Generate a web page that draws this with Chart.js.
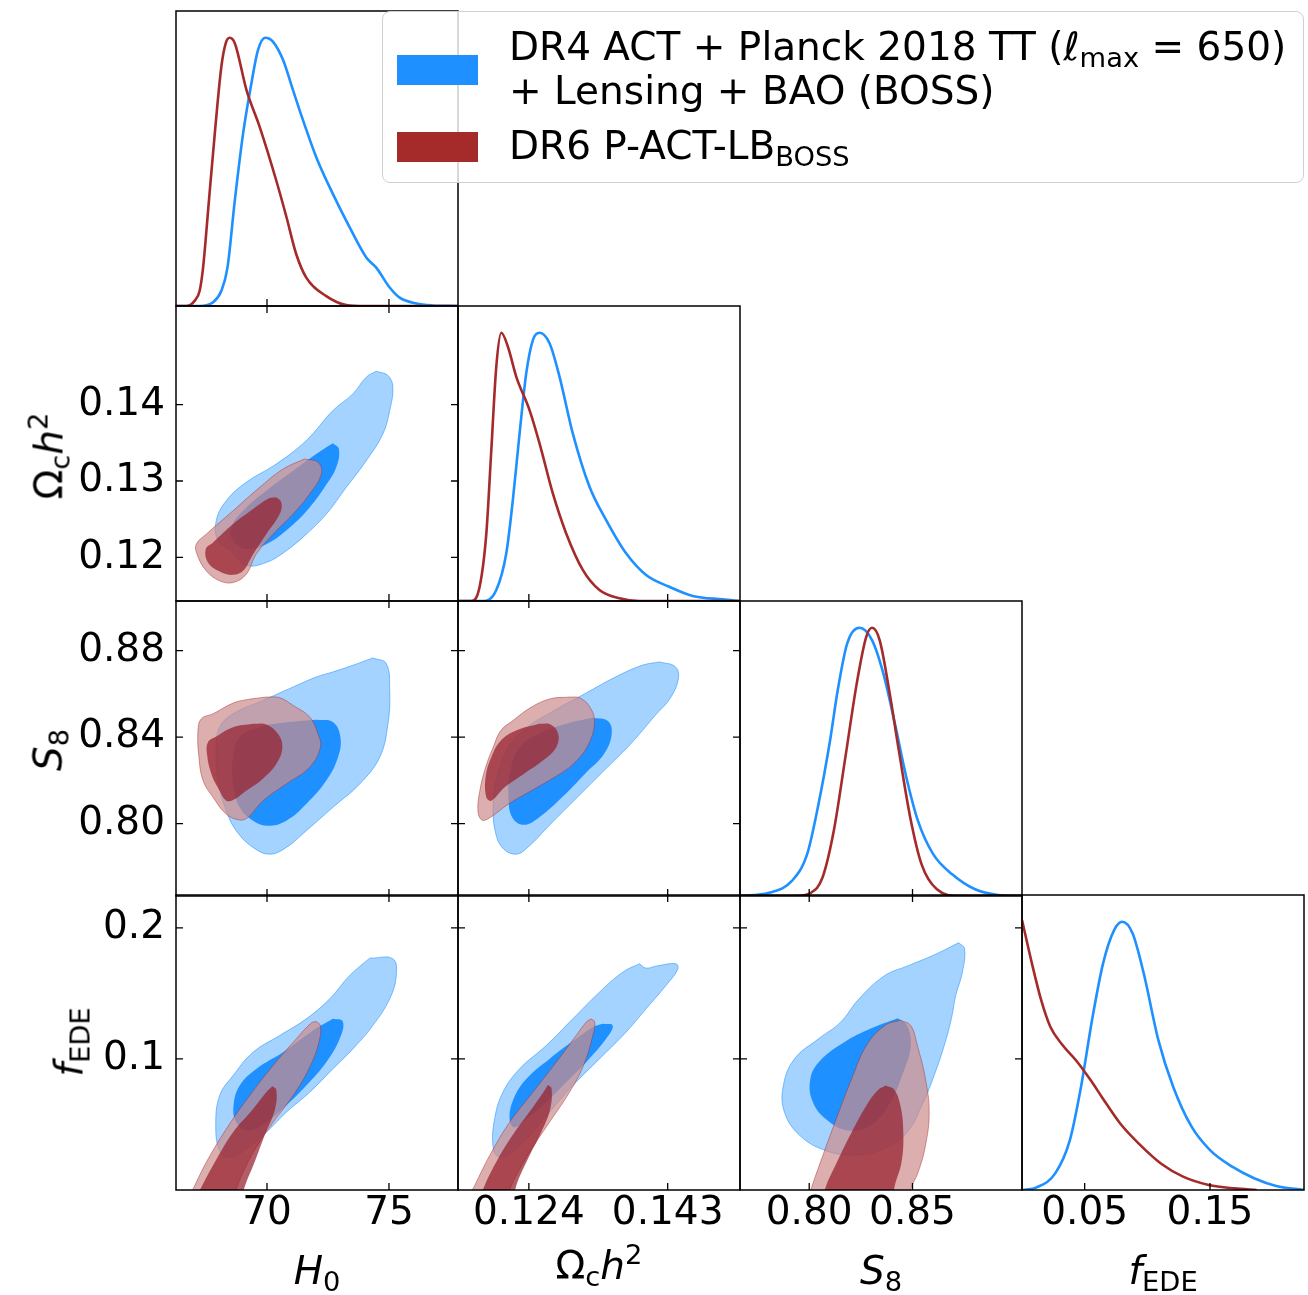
<!DOCTYPE html>
<html lang="en">
<head>
  <meta charset="UTF-8" />
  <title>EDE triangle plot</title>
  <script src="https://cdn.jsdelivr.net/npm/chart.js"></script>
  <style>
    body { margin: 0; background: #fff; font-family: 'DejaVu Sans', sans-serif; }
    #fig { position: relative; width: 1308px; height: 1295px; overflow: hidden; }
    #fig canvas { position: absolute; }
    .lbl { position: absolute; font-size: 39px; line-height: 39px; white-space: nowrap; color: #000; z-index: 4; }
    .lbl sub { font-size: 0.7em; vertical-align: -0.25em; line-height: 0; }
    .lbl sup { font-size: 0.7em; vertical-align: 0.55em; line-height: 0; }
    .ylbl { transform: translate(-50%, -50%) rotate(-90deg); }
    .xlbl { transform: translateX(-50%); }
    #legend {
      position: absolute; left: 382px; top: 11px; width: 920px; height: 170px;
      border: 1.5px solid #cfcfcf; border-radius: 8px; background: rgba(255,255,255,0.8); z-index: 5;
    }
    .patch { position: absolute; left: 14px; width: 81px; height: 30px; }
    .legtxt { position: absolute; left: 126px; font-size: 39px; line-height: 39px; white-space: nowrap; }
    .legtxt sub { font-size: 0.7em; vertical-align: -0.25em; line-height: 0; }
  </style>
</head>
<body>
<div id="fig">
  <!-- axis titles -->
  <div class="lbl xlbl" style="left:317px; top:1251px"><i>H</i><sub>0</sub></div>
  <div class="lbl xlbl" style="left:599px; top:1246px">Ω<sub>c</sub><i>h</i><sup>2</sup></div>
  <div class="lbl xlbl" style="left:881px; top:1251px"><i>S</i><sub>8</sub></div>
  <div class="lbl xlbl" style="left:1163px; top:1251px"><i>f</i><sub>EDE</sub></div>
  <div class="lbl ylbl" style="left:49px; top:456px">Ω<sub>c</sub><i>h</i><sup>2</sup></div>
  <div class="lbl ylbl" style="left:48px; top:750px"><i>S</i><sub>8</sub></div>
  <div class="lbl ylbl" style="left:69px; top:1042px"><i>f</i><sub>EDE</sub></div>

  <div id="legend">
    <div class="patch" style="top:43px; background:#1e90ff"></div>
    <div class="patch" style="top:120px; background:#a52a2a"></div>
    <div class="legtxt" style="top:15px">DR4 ACT + Planck 2018 TT (<i>ℓ</i><sub>max</sub> = 650)</div>
    <div class="legtxt" style="top:59px">+ Lensing + BAO (BOSS)</div>
    <div class="legtxt" style="top:114px">DR6 P-ACT-LB<sub>BOSS</sub></div>
  </div>
</div>

<script>
  // axis ranges
  const h0Range = [66.27, 77.83];
  const omRange = [0.1143, 0.1529];
  const s8Range = [0.7665, 0.903];
  const fRange = [0, 0.225];

  // ticks and tick labels
  const h0Ticks = [70, 75];
  const h0Labels = ['70', '75'];
  const omXTicks = [0.124, 0.143];
  const omXLabels = ['0.124', '0.143'];
  const omYTicks = [0.12, 0.13, 0.14];
  const omYLabels = ['0.12', '0.13', '0.14'];
  const s8XTicks = [0.80, 0.85];
  const s8XLabels = ['0.80', '0.85'];
  const s8YTicks = [0.80, 0.84, 0.88];
  const s8YLabels = ['0.80', '0.84', '0.88'];
  const fXTicks = [0.05, 0.15];
  const fXLabels = ['0.05', '0.15'];
  const fYTicks = [0.1, 0.2];
  const fYLabels = ['0.1', '0.2'];

  // 1D marginals (value, normalised density)
  const h0Blue = [[66.27,0],[67.24,0],[67.79,0.014],[68.13,0.057],[68.38,0.143],[68.68,0.393],[69.02,0.643],[69.36,0.83],[69.63,0.954],[69.93,1.0],[70.25,0.985],[70.66,0.917],[71.07,0.804],[71.48,0.692],[72.02,0.555],[72.7,0.418],[73.39,0.293],[74.07,0.181],[74.48,0.143],[75.03,0.069],[75.44,0.031],[76.12,0.009],[76.8,0.002],[77.83,0]];
  const h0Red = [[66.27,0],[66.71,0],[67.04,0.02],[67.24,0.057],[67.38,0.143],[67.62,0.393],[67.86,0.643],[68.13,0.893],[68.31,0.98],[68.47,1.0],[68.68,0.98],[69.16,0.805],[69.7,0.668],[70.38,0.468],[70.8,0.331],[71.2,0.193],[71.61,0.106],[72.43,0.037],[73.25,0.004],[74.07,0],[77.83,0]];
  const omBlue = [[0.1143,0],[0.1177,0],[0.11954,0.041],[0.12091,0.178],[0.12181,0.377],[0.12273,0.625],[0.12364,0.849],[0.12455,0.973],[0.12546,1.0],[0.12683,0.961],[0.1282,0.836],[0.13001,0.625],[0.1323,0.426],[0.13458,0.302],[0.13731,0.178],[0.14005,0.097],[0.14323,0.053],[0.14642,0.019],[0.15052,0.006],[0.1529,0]];
  const omRed = [[0.1143,0],[0.11613,0],[0.11726,0.053],[0.11818,0.252],[0.11886,0.563],[0.11954,0.874],[0.12023,1.0],[0.12113,0.948],[0.12228,0.836],[0.12409,0.712],[0.12546,0.588],[0.12728,0.401],[0.12911,0.252],[0.13138,0.116],[0.13366,0.041],[0.1364,0.01],[0.13913,0],[0.1529,0]];
  const s8Blue = [[0.7665,0],[0.7805,0.012],[0.7916,0.056],[0.799,0.156],[0.8045,0.343],[0.8101,0.58],[0.8138,0.767],[0.8184,0.942],[0.8243,1.0],[0.8304,0.954],[0.8359,0.829],[0.8415,0.642],[0.847,0.443],[0.8526,0.281],[0.86,0.156],[0.8692,0.081],[0.8803,0.025],[0.8914,0.004],[0.903,0]];
  const s8Red = [[0.7665,0],[0.7934,0],[0.8008,0.012],[0.8064,0.068],[0.8119,0.243],[0.8175,0.517],[0.823,0.792],[0.8276,0.966],[0.8304,1.0],[0.8341,0.954],[0.8387,0.767],[0.8434,0.542],[0.8489,0.293],[0.8544,0.118],[0.8618,0.025],[0.8729,0],[0.903,0]];
  const fBlue = [[0,0],[0.0118,0.01],[0.0265,0.062],[0.0382,0.186],[0.0471,0.385],[0.0559,0.634],[0.0647,0.845],[0.0735,0.969],[0.08,1.0],[0.0882,0.957],[0.0971,0.808],[0.1088,0.559],[0.1206,0.385],[0.1353,0.236],[0.15,0.149],[0.1677,0.087],[0.1852,0.044],[0.2029,0.015],[0.225,0]];
  const fRed = [[0,1.007],[0.0079,0.845],[0.0153,0.708],[0.0226,0.609],[0.0315,0.545],[0.0432,0.483],[0.055,0.408],[0.0638,0.346],[0.0785,0.247],[0.0932,0.173],[0.1108,0.099],[0.1285,0.05],[0.149,0.019],[0.1696,0.006],[0.1872,0]];

  // 2D contours: H0 vs Omega_c h^2
  const h0OmBlueOuter = [[74.48,0.14437],[74.96,0.1438],[75.16,0.14228],[75.03,0.13922],[74.75,0.13616],[74.07,0.13266],[73.25,0.12917],[72.43,0.12567],[71.61,0.12305],[70.79,0.12087],[69.97,0.11934],[69.15,0.11899],[68.47,0.121],[67.99,0.12218],[67.92,0.1248],[68.33,0.12742],[69.15,0.12983],[70.38,0.13223],[71.61,0.13529],[72.7,0.13922],[73.52,0.1414],[74.07,0.14359]];
  const h0OmBlueInner = [[72.7,0.13494],[72.95,0.13419],[72.84,0.13179],[72.36,0.12917],[71.75,0.12655],[70.93,0.12393],[69.97,0.12174],[69.15,0.12109],[68.61,0.12218],[68.54,0.12393],[69.02,0.12611],[69.97,0.12873],[71.07,0.13135],[72.02,0.13354]];
  const h0OmRedOuter = [[71.54,0.13288],[72.09,0.13245],[72.23,0.13092],[71.75,0.1283],[71.07,0.12568],[70.25,0.12305],[69.56,0.12043],[69.15,0.11781],[68.61,0.11672],[68.06,0.11694],[67.51,0.11825],[67.13,0.12043],[67.1,0.12174],[67.51,0.12305],[68.61,0.12611],[69.7,0.12917],[70.66,0.13157]];
  const h0OmRedInner = [[70.38,0.12786],[70.59,0.1272],[70.52,0.12567],[69.97,0.12305],[69.43,0.12043],[69.02,0.11825],[68.61,0.11772],[68.06,0.11816],[67.58,0.11934],[67.49,0.12109],[67.79,0.12196],[68.61,0.12436],[69.43,0.12633],[70.11,0.12777]];

  // H0 vs S8
  const h0S8BlueOuter = [[74.34,0.87666],[74.89,0.87403],[75.03,0.86165],[74.96,0.84619],[74.62,0.83072],[73.8,0.81835],[72.7,0.80752],[71.61,0.79669],[70.79,0.78896],[70.11,0.78586],[69.43,0.78896],[68.74,0.79669],[68.33,0.80597],[67.99,0.81989],[67.92,0.83536],[68.06,0.84464],[68.61,0.85083],[69.84,0.85701],[71.07,0.8632],[72.02,0.86784],[72.7,0.87016],[73.52,0.87326]];
  const h0S8BlueInner = [[72.02,0.84804],[72.7,0.84696],[73.01,0.84],[72.91,0.83072],[72.43,0.81989],[71.61,0.80906],[70.79,0.80133],[70.04,0.79901],[69.43,0.80133],[68.88,0.80752],[68.61,0.81835],[68.61,0.83072],[68.88,0.84],[69.7,0.84464],[70.93,0.84696]];
  const h0S8RedOuter = [[69.97,0.85856],[69.15,0.85732],[68.61,0.85578],[67.79,0.85083],[67.31,0.84851],[67.17,0.84309],[67.21,0.83072],[67.38,0.81989],[67.79,0.81216],[68.33,0.80442],[68.88,0.80164],[69.22,0.80288],[69.84,0.81061],[70.79,0.81835],[71.75,0.82608],[72.19,0.83536],[72.09,0.84155],[71.75,0.84928],[71.07,0.8547],[70.52,0.85825]];
  const h0S8RedInner = [[69.43,0.84619],[69.97,0.84588],[70.45,0.84155],[70.63,0.83536],[70.38,0.82763],[69.77,0.8202],[69.15,0.81525],[68.61,0.81092],[68.33,0.81061],[68.06,0.81525],[67.72,0.82299],[67.54,0.83227],[67.58,0.83768],[67.92,0.84031],[68.61,0.84464]];

  // Omega_c h^2 vs S8
  const omS8BlueOuter = [[0.14187,0.8748],[0.14397,0.87279],[0.14449,0.86784],[0.14345,0.85856],[0.14109,0.84928],[0.13795,0.83691],[0.13429,0.82453],[0.13063,0.81216],[0.12697,0.79978],[0.12383,0.78896],[0.12226,0.78586],[0.12043,0.78865],[0.11938,0.79669],[0.11912,0.80906],[0.11964,0.82144],[0.12121,0.83536],[0.12383,0.84464],[0.12749,0.85237],[0.13167,0.86011],[0.13586,0.86784],[0.13952,0.87326]];
  const omS8BlueInner = [[0.13272,0.84897],[0.13482,0.84742],[0.13534,0.84155],[0.1343,0.83227],[0.13167,0.82299],[0.12854,0.81216],[0.1254,0.80288],[0.1233,0.79947],[0.12173,0.80288],[0.12121,0.81216],[0.12147,0.82453],[0.12278,0.83536],[0.1254,0.84155],[0.12906,0.84619]];
  const omS8RedOuter = [[0.12958,0.85856],[0.12697,0.85779],[0.12435,0.85392],[0.12173,0.84742],[0.12017,0.84309],[0.11912,0.83536],[0.11808,0.82608],[0.11729,0.81525],[0.11703,0.80597],[0.11755,0.80164],[0.1186,0.80257],[0.12121,0.80906],[0.12435,0.81525],[0.12749,0.82144],[0.1301,0.82763],[0.1322,0.83691],[0.13298,0.84773],[0.1322,0.85469],[0.13089,0.85825]];
  const omS8RedInner = [[0.1254,0.84619],[0.12697,0.84588],[0.12801,0.84155],[0.12775,0.83536],[0.12592,0.82917],[0.1233,0.82299],[0.12069,0.8168],[0.11886,0.81061],[0.11818,0.81216],[0.11808,0.82144],[0.11886,0.83072],[0.12017,0.83845],[0.12226,0.84309]];

  // H0 vs f_EDE
  const h0FBlueOuter = [[74.21,0.17684],[75.16,0.17634],[75.3,0.16361],[75.03,0.1458],[74.34,0.12545],[73.52,0.10763],[72.7,0.09237],[71.75,0.07455],[70.79,0.05929],[69.97,0.04402],[69.15,0.0313],[68.47,0.02494],[68.06,0.03003],[67.9,0.04911],[68.06,0.07201],[68.61,0.08728],[69.43,0.10509],[70.52,0.11781],[71.61,0.13053],[72.57,0.1458],[73.39,0.16361]];
  const h0FBlueInner = [[72.7,0.13053],[73.11,0.1285],[72.98,0.11527],[72.43,0.09746],[71.61,0.07964],[70.79,0.06438],[69.97,0.05165],[69.22,0.04529],[68.74,0.05165],[68.63,0.06438],[68.88,0.07964],[69.56,0.09237],[70.66,0.10509],[71.89,0.12163]];
  const h0FRedOuter = [[72.02,0.1285],[72.19,0.12545],[72.13,0.11272],[71.75,0.09364],[71.07,0.072],[70.25,0.05165],[69.56,0.03257],[69.02,0.01349],[68.74,0.00076],[68.36,-0.0171],[66.49,-0.0171],[66.97,0.00076],[67.51,0.02112],[68.33,0.04656],[69.29,0.072],[70.25,0.09491],[71.2,0.11527],[71.82,0.12748]];
  const h0FRedInner = [[70.22,0.07913],[70.38,0.07659],[70.33,0.06183],[69.9,0.04148],[69.49,0.02112],[69.08,0.00204],[68.81,-0.0171],[66.83,-0.0171],[67.31,0.00204],[67.86,0.02112],[68.61,0.04402],[69.43,0.06183],[69.97,0.07455]];

  // Omega_c h^2 vs f_EDE
  const omFBlueOuter = [[0.13913,0.17252],[0.14004,0.16921],[0.14141,0.17074],[0.14414,0.17252],[0.14437,0.16819],[0.14277,0.15598],[0.14004,0.13817],[0.1373,0.12036],[0.13366,0.1],[0.13001,0.07964],[0.12682,0.05929],[0.12364,0.03893],[0.12136,0.02748],[0.11976,0.0257],[0.11908,0.03384],[0.11931,0.0542],[0.12045,0.07455],[0.12272,0.09237],[0.12637,0.11018],[0.13001,0.13053],[0.13366,0.15089],[0.13685,0.16616]];
  const omFBlueInner = [[0.13411,0.12672],[0.13548,0.12545],[0.13457,0.11527],[0.13184,0.09746],[0.1291,0.08219],[0.12637,0.06692],[0.12364,0.0542],[0.12204,0.04784],[0.12136,0.0542],[0.1219,0.06947],[0.12364,0.08473],[0.12682,0.1],[0.13047,0.11527],[0.13275,0.12417]];
  const omFRedOuter = [[0.13252,0.13053],[0.13302,0.12799],[0.13275,0.11781],[0.13147,0.09491],[0.12956,0.07455],[0.12682,0.05165],[0.12409,0.02875],[0.12159,0.00331],[0.12022,-0.0171],[0.11475,-0.0171],[0.11657,0.00331],[0.11862,0.0262],[0.12136,0.05165],[0.12455,0.07455],[0.12774,0.09746],[0.13047,0.11781],[0.13184,0.12799]];
  const omFRedInner = [[0.1266,0.08015],[0.1271,0.07761],[0.12692,0.06183],[0.12569,0.04402],[0.12386,0.02366],[0.12227,0.00331],[0.12136,-0.0171],[0.11657,-0.0171],[0.11794,0.00331],[0.11976,0.02366],[0.12204,0.04402],[0.12455,0.0631],[0.12614,0.07583]];

  // S8 vs f_EDE
  const s8FBlueOuter = [[0.87236,0.18855],[0.87522,0.18397],[0.87415,0.16616],[0.87093,0.14835],[0.86879,0.13053],[0.86521,0.10936],[0.85985,0.08473],[0.85449,0.06438],[0.84735,0.04402],[0.83663,0.03181],[0.82233,0.02672],[0.80804,0.03003],[0.79553,0.04148],[0.78803,0.05929],[0.78749,0.07964],[0.79285,0.1],[0.80447,0.11527],[0.81519,0.12799],[0.82412,0.1458],[0.83663,0.16361],[0.84735,0.17074],[0.85985,0.17888]];
  const s8FBlueInner = [[0.84288,0.13104],[0.84735,0.12545],[0.84913,0.11018],[0.84556,0.08982],[0.83841,0.06438],[0.82948,0.04911],[0.81876,0.04529],[0.80893,0.05293],[0.80179,0.06692],[0.80054,0.08473],[0.80536,0.09873],[0.81697,0.11272],[0.82948,0.1229]];
  const s8FRedOuter = [[0.84413,0.12952],[0.84913,0.12545],[0.85235,0.11018],[0.85628,0.08473],[0.85807,0.05929],[0.85628,0.03384],[0.85271,0.01349],[0.84913,0.00076],[0.84645,-0.0171],[0.79732,-0.0171],[0.80089,0.00076],[0.80715,0.02875],[0.81429,0.05929],[0.82055,0.08473],[0.82769,0.11018],[0.83663,0.12545]];
  const s8FRedInner = [[0.83698,0.07964],[0.84109,0.07659],[0.84413,0.06438],[0.84556,0.04402],[0.84467,0.02112],[0.84109,0.00076],[0.8402,-0.0171],[0.80536,-0.0171],[0.80768,0.00076],[0.8134,0.02112],[0.82055,0.04402],[0.82769,0.06438],[0.83305,0.07583]];

  const BLUE = '#1e90ff';
  const RED = '#a52a2a';
  const FONT = { family: 'DejaVu Sans', size: 39 };

  const params = [
    { range: h0Range, xTicks: h0Ticks, xLabels: h0Labels, yTicks: [], yLabels: [] },
    { range: omRange, xTicks: omXTicks, xLabels: omXLabels, yTicks: omYTicks, yLabels: omYLabels },
    { range: s8Range, xTicks: s8XTicks, xLabels: s8XLabels, yTicks: s8YTicks, yLabels: s8YLabels },
    { range: fRange, xTicks: fXTicks, xLabels: fXLabels, yTicks: fYTicks, yLabels: fYLabels }
  ];
  const marginals = [[h0Blue, h0Red], [omBlue, omRed], [s8Blue, s8Red], [fBlue, fRed]];
  const contours = {
    '0-1': [h0OmBlueOuter, h0OmBlueInner, h0OmRedOuter, h0OmRedInner],
    '0-2': [h0S8BlueOuter, h0S8BlueInner, h0S8RedOuter, h0S8RedInner],
    '1-2': [omS8BlueOuter, omS8BlueInner, omS8RedOuter, omS8RedInner],
    '0-3': [h0FBlueOuter, h0FBlueInner, h0FRedOuter, h0FRedInner],
    '1-3': [omFBlueOuter, omFBlueInner, omFRedOuter, omFRedInner],
    '2-3': [s8FBlueOuter, s8FBlueInner, s8FRedOuter, s8FRedInner]
  };

  const colX = [176, 458, 740, 1022];
  const rowY = [11, 306, 601, 895];
  const PW = 282, PH = 295;

  // frame + inward tick marks, like matplotlib direction='in'
  const frameTicks = {
    id: 'frameTicks',
    afterDraw(chart, args, o) {
      const { ctx, chartArea: a } = chart;
      const x = chart.scales.x, y = chart.scales.y;
      const L = 7;
      ctx.save();
      ctx.strokeStyle = '#000';
      ctx.lineWidth = 1.3;
      ctx.beginPath();
      x.ticks.forEach(t => {
        const p = x.getPixelForValue(t.value);
        ctx.moveTo(p, a.bottom); ctx.lineTo(p, a.bottom - L);
        if (o.all) { ctx.moveTo(p, a.top); ctx.lineTo(p, a.top + L); }
      });
      if (o.all) {
        y.ticks.forEach(t => {
          const p = y.getPixelForValue(t.value);
          ctx.moveTo(a.left, p); ctx.lineTo(a.left + L, p);
          ctx.moveTo(a.right, p); ctx.lineTo(a.right - L, p);
        });
      }
      ctx.stroke();
      ctx.lineWidth = 1.5;
      ctx.strokeRect(a.left, a.top, a.right - a.left, a.bottom - a.top);
      ctx.restore();
    }
  };

  const toXY = pts => pts.map(p => ({ x: p[0], y: p[1] }));

  function contour(pts, fill, edge, order) {
    const data = toXY(pts.concat([pts[0]]));
    return {
      data, fill: 'shape', backgroundColor: fill, borderColor: edge || 'rgba(0,0,0,0)',
      borderWidth: edge ? 1 : 0, pointRadius: 0, tension: 0.4, order
    };
  }

  function curve(pts, color, order) {
    return {
      data: toXY(pts), fill: false, borderColor: color, borderWidth: 2.6,
      pointRadius: 0, cubicInterpolationMode: 'monotone', order
    };
  }

  // keep the plot box exactly where it belongs: no label overhang padding
  function noPad(s) {
    s.paddingTop = 0; s.paddingBottom = 0; s.paddingLeft = 0; s.paddingRight = 0;
  }

  function makePanel(col, row) {
    const is1D = col === row;
    const padL = col === 0 ? colX[0] : 6;
    const padB = row === 3 ? 1295 - (rowY[3] + PH) : 6;
    const padT = 6, padR = 6;
    const px = params[col], py = params[row];

    const canvas = document.createElement('canvas');
    const w = PW + padL + padR, h = PH + padT + padB;
    canvas.width = w; canvas.height = h;
    canvas.style.left = (colX[col] - padL) + 'px';
    canvas.style.top = (rowY[row] - padT) + 'px';
    canvas.style.width = w + 'px'; canvas.style.height = h + 'px';
    document.getElementById('fig').appendChild(canvas);

    let datasets;
    if (is1D) {
      const [b, r] = marginals[col];
      datasets = [curve(r, RED, 1), curve(b, BLUE, 2)];
    } else {
      const [bo, bi, ro, ri] = contours[col + '-' + row];
      datasets = [
        contour(ri, 'rgba(150,30,45,0.72)', null, 1),
        contour(ro, 'rgba(205,140,140,0.7)', 'rgba(165,42,42,0.45)', 2),
        contour(bi, BLUE, null, 3),
        contour(bo, 'rgba(30,144,255,0.4)', 'rgba(30,144,255,0.55)', 4)
      ];
    }

    const yTicks = is1D ? [] : py.yTicks;
    const yLabels = is1D ? [] : py.yLabels;

    new Chart(canvas, {
      type: 'line',
      data: { datasets },
      plugins: [frameTicks],
      options: {
        responsive: false,
        animation: false,
        events: [],
        layout: { padding: { top: padT, right: padR, left: 0, bottom: 0 }, autoPadding: false },
        plugins: {
          legend: { display: false },
          tooltip: { enabled: false },
          frameTicks: { all: !is1D }
        },
        scales: {
          x: {
            type: 'linear', position: 'bottom', bounds: 'data',
            min: px.range[0], max: px.range[1],
            grid: { display: false, drawTicks: false },
            border: { display: false },
            ticks: {
              display: row === 3, color: '#000', font: FONT, padding: 0, maxRotation: 0,
              callback: (v, i) => px.xLabels[i]
            },
            afterBuildTicks: s => { s.ticks = px.xTicks.map(v => ({ value: v })); },
            afterFit: s => { s.height = padB; noPad(s); }
          },
          y: {
            type: 'linear', position: 'left', bounds: 'data',
            min: is1D ? 0 : py.range[0], max: is1D ? 1.1 : py.range[1],
            grid: { display: false, drawTicks: false },
            border: { display: false },
            ticks: {
              display: col === 0 && !is1D, color: '#000', font: FONT, padding: 11,
              callback: (v, i) => yLabels[i]
            },
            afterBuildTicks: s => { s.ticks = yTicks.map(v => ({ value: v })); },
            afterFit: s => { s.width = padL; noPad(s); }
          }
        }
      }
    });
  }

  for (let row = 0; row < 4; row++) {
    for (let col = 0; col <= row; col++) makePanel(col, row);
  }
</script>
</body>
</html>
